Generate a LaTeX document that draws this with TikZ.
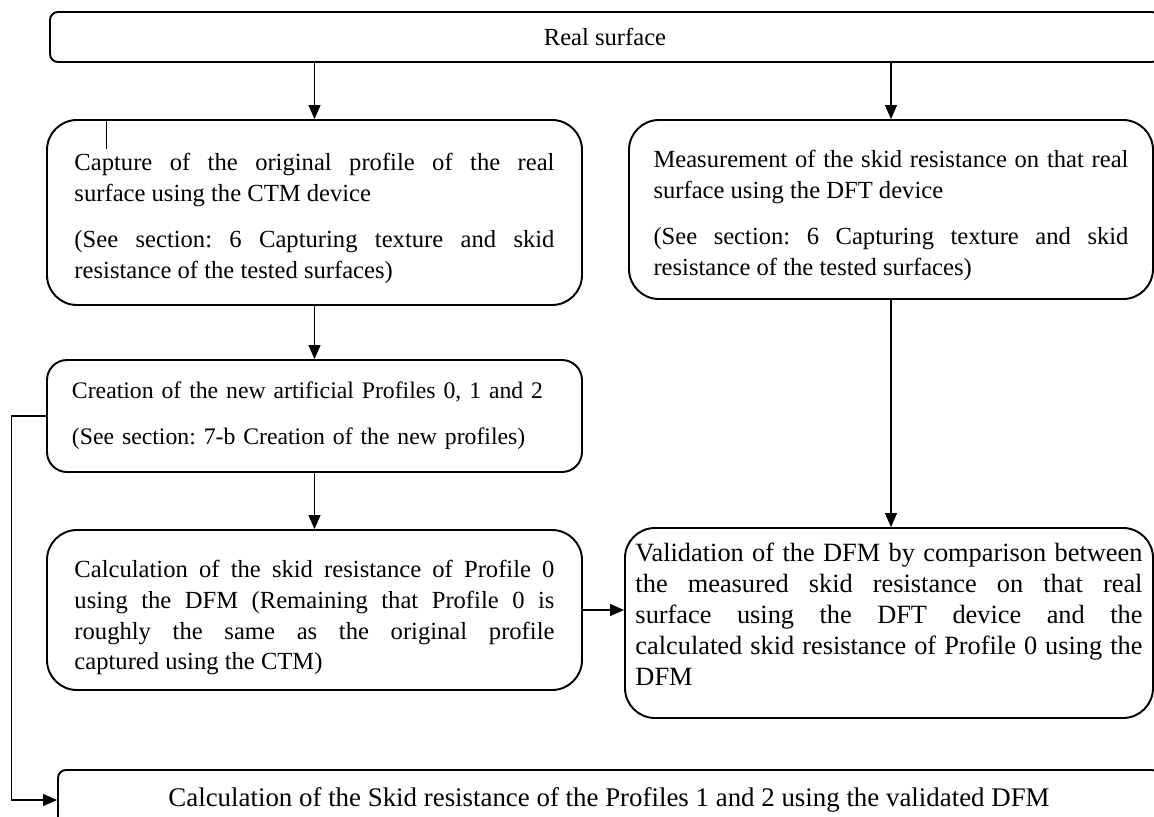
\documentclass[tikz,border=0pt]{standalone}
\usepackage{fontspec}
\setmainfont{Liberation Serif}
\frenchspacing
\usetikzlibrary{arrows.meta}
\newcommand\lift[1]{\rule{0pt}{#1}}
\newcommand\sink[1]{\rule[-#1]{0pt}{0pt}}
\begin{document}
\begin{tikzpicture}[x=0.2mm,y=-0.2mm,
    font=\fontsize{14}{17.4}\selectfont,
    box/.style={draw,line width=1.1pt,rounded corners=6mm,inner sep=0pt,align=justify},
    flat/.style={draw,line width=1.1pt,rounded corners=1.6mm,inner sep=0pt,align=center},
    arr/.style={-{Triangle[length=2.8mm,width=2.4mm]},line width=0.6pt}]
  \useasboundingbox (0,0) rectangle (1154,816);
  \node[flat,minimum width=222mm,minimum height=10mm] (real) at (605,37) {Real surface};
  \node[box,minimum width=107mm,minimum height=37mm,text width=96mm] (capture) at (314.5,212.5)
    {\lift{16.5pt}Capture of the original profile of the real\linebreak surface using the CTM device\\[9pt]
     (See section: 6 Capturing texture and skid\linebreak resistance of the tested surfaces)};
  \node[box,minimum width=104.8mm,minimum height=35.8mm,text width=95mm] (measure) at (891,209.5)
    {\lift{16.5pt}Measurement of the skid resistance on that real\linebreak surface using the DFT device\\[9pt]
     (See section: 6 Capturing texture and skid\linebreak resistance of the tested surfaces)};
  \node[box,rounded corners=4mm,minimum width=107mm,minimum height=22.4mm,text width=97mm,align=left,
    font=\fontsize{13.5}{17}\selectfont] (create) at (314.5,416)
    {Creation of the new artificial Profiles 0, 1 and 2\\[9pt]
     (See section: 7-b Creation of the new profiles)};
  \node[box,minimum width=107mm,minimum height=32mm,text width=96mm] (calc) at (314.5,610)
    {\lift{18.7pt}Calculation of the skid resistance of Profile 0\linebreak using the DFM (Remaining that Profile 0 is\linebreak
     roughly the same as the original profile\linebreak captured using the CTM)};
  \node[box,minimum width=105.6mm,minimum height=38mm,text width=101.4mm,
    font=\fontsize{15}{17.6}\selectfont] (valid) at (889,623)
    {Validation of the DFM by comparison between\linebreak the measured skid resistance on that real\linebreak
     surface using the DFT device and the\linebreak calculated skid resistance of Profile 0 using the\linebreak DFM\sink{10pt}};
  \node[flat,minimum width=220.4mm,minimum height=12mm,font=\fontsize{15.3}{18}\selectfont] (final) at (609,800)
    {Calculation of the Skid resistance of the Profiles 1 and 2 using the validated DFM};
  \draw[line width=0.5pt] (capture.north -| 106,0) -- ++(0,30);
  \draw[arr] (real.south -| capture) -- (capture.north);
  \draw[arr] (real.south -| measure) -- (measure.north);
  \draw[arr] (capture) -- (create);
  \draw[arr] (create) -- (calc);
  \draw[arr] (measure.south) -- (measure.south |- valid.north);
  \draw[arr] (calc.east) -- (calc.east -| valid.west);
  \draw[arr] (create.west) -- ++(-35,0) |- (final.west);
\end{tikzpicture}
\end{document}
